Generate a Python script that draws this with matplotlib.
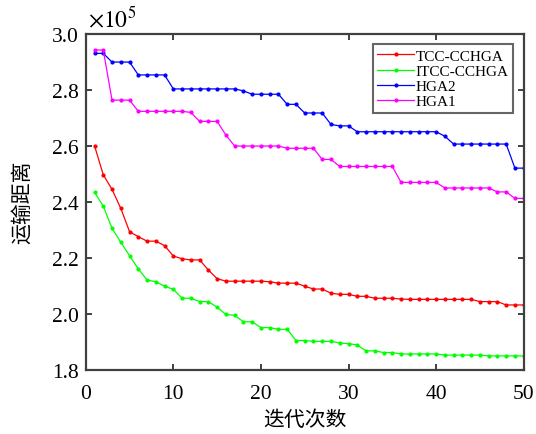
import matplotlib
matplotlib.use("Agg")
import matplotlib.pyplot as plt

plt.rcParams['font.family'] = ['Liberation Serif', 'Noto Sans CJK SC']
plt.rcParams['mathtext.fontset'] = 'stix'

iters = list(range(1, 51))

tcc = [2.600, 2.496, 2.444, 2.376, 2.293, 2.275, 2.259, 2.259, 2.243, 2.206,
       2.196, 2.192, 2.192, 2.156, 2.125, 2.116, 2.116, 2.116, 2.116, 2.116,
       2.114, 2.109, 2.109, 2.109, 2.098, 2.088, 2.088, 2.073, 2.069, 2.069,
       2.062, 2.062, 2.055, 2.055, 2.055, 2.052, 2.051, 2.051, 2.051, 2.051,
       2.051, 2.051, 2.051, 2.051, 2.043, 2.043, 2.043, 2.031, 2.031, 2.031]

itcc = [2.434, 2.384, 2.305, 2.255, 2.207, 2.160, 2.120, 2.114, 2.098, 2.087,
        2.055, 2.055, 2.043, 2.043, 2.023, 1.997, 1.994, 1.971, 1.971, 1.950,
        1.950, 1.944, 1.944, 1.904, 1.904, 1.901, 1.901, 1.901, 1.895, 1.893,
        1.888, 1.867, 1.867, 1.861, 1.861, 1.856, 1.856, 1.856, 1.856, 1.856,
        1.852, 1.852, 1.852, 1.852, 1.852, 1.849, 1.849, 1.849, 1.849, 1.849]

hga2 = [2.930, 2.930, 2.899, 2.899, 2.899, 2.853, 2.853, 2.853, 2.853, 2.803,
        2.803, 2.803, 2.803, 2.803, 2.803, 2.803, 2.803, 2.796, 2.784, 2.784,
        2.784, 2.784, 2.748, 2.748, 2.717, 2.717, 2.717, 2.676, 2.671, 2.671,
        2.650, 2.650, 2.650, 2.650, 2.650, 2.650, 2.650, 2.650, 2.650, 2.650,
        2.634, 2.606, 2.606, 2.606, 2.606, 2.606, 2.606, 2.606, 2.520, 2.520]

hga1 = [2.942, 2.942, 2.763, 2.763, 2.763, 2.723, 2.723, 2.723, 2.723, 2.723,
        2.723, 2.719, 2.687, 2.687, 2.687, 2.638, 2.599, 2.599, 2.599, 2.599,
        2.599, 2.599, 2.591, 2.591, 2.591, 2.591, 2.551, 2.551, 2.526, 2.526,
        2.526, 2.526, 2.526, 2.526, 2.526, 2.469, 2.469, 2.469, 2.469, 2.469,
        2.449, 2.449, 2.449, 2.449, 2.449, 2.449, 2.435, 2.435, 2.412, 2.412]

series = [("TCC-CCHGA", tcc, "#ff0000"),
          ("ITCC-CCHGA", itcc, "#00ff00"),
          ("HGA2", hga2, "#0000ff"),
          ("HGA1", hga1, "#ff00ff")]

frame = "#404040"

fig = plt.figure(figsize=(5.36, 4.35), dpi=100)
ax = fig.add_axes([0.160, 0.148, 0.817, 0.772])

for name, vals, col in series:
    ax.plot(iters, vals, '-', marker='.', markersize=4, linewidth=0.9,
            color=col, label=name)

ax.set_xlim(0, 50)
ax.set_ylim(1.8, 3.0)
ax.set_xticks([0, 10, 20, 30, 40, 50])
ax.set_yticks([1.8, 2.0, 2.2, 2.4, 2.6, 2.8, 3.0])
ax.set_yticklabels(["1.8", "2.0", "2.2", "2.4", "2.6", "2.8", "3.0"])

for s in ax.spines.values():
    s.set_color(frame)
    s.set_linewidth(1.6)
ax.tick_params(direction='in', length=4, width=1.4, color=frame,
               top=True, right=True, labelsize=15.5)
ax.tick_params(axis='x', pad=10)
ax.tick_params(axis='y', pad=5)

ax.set_xlabel("迭代次数", fontsize=15, labelpad=6)
ax.set_ylabel("运输距离", fontsize=15, labelpad=14)

ax.text(0.005, 1.01, r"$\times 10^{5}$", transform=ax.transAxes,
        fontsize=17, ha='left', va='bottom')

leg = ax.legend(loc='upper right', fontsize=11, frameon=True, fancybox=False,
                handlelength=2.4, handletextpad=0.1, labelspacing=0.1,
                borderpad=0.3, borderaxespad=0.7)
leg.get_frame().set_edgecolor(frame)
leg.get_frame().set_linewidth(1.5)

fig.savefig("out.png", dpi=100)
